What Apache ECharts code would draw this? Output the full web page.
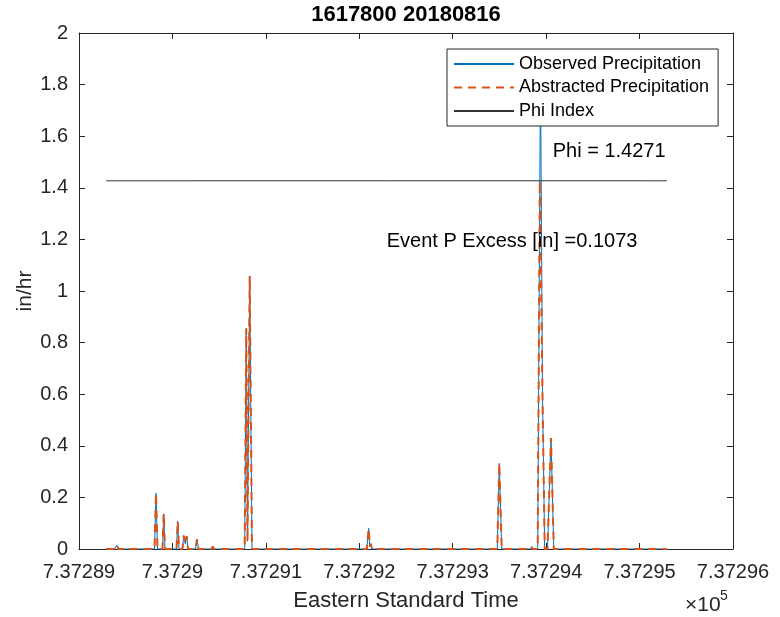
<!DOCTYPE html>
<html>
<head>
<meta charset="utf-8">
<script src="https://cdn.jsdelivr.net/npm/echarts@6/dist/echarts.min.js"></script>
<style>
html,body{margin:0;padding:0;background:#fff;}
#chart{width:780px;height:617px;}
</style>
</head>
<body>
<div id="chart"></div>
<script>
// ---- data (x in MATLAB datenum days, y in in/hr) ----
var titleText = '1617800 20180816';
var xTickLabels = ['7.37289','7.3729','7.37291','7.37292','7.37293','7.37294','7.37295','7.37296'];
var yTickLabels = ['0','0.2','0.4','0.6','0.8','1','1.2','1.4','1.6','1.8','2'];

var obsTime = [737289.2917,737289.3800,737289.4035,737289.4228,737289.8081,737289.8242,737289.8402,
  737289.8937,737289.9066,737289.9205,737290.0436,737290.0564,737290.0703,737290.1078,737290.1206,
  737290.1377,737290.1527,737290.1666,737290.2469,737290.2630,737290.2790,737290.4182,737290.4310,
  737290.4449,737290.7735,737290.7906,737290.8035,737290.8270,737290.8517,737292.0804,737292.1007,
  737292.1125,737292.1221,737292.1360,737293.4771,737293.4985,737293.5242,737293.8378,737293.8453,
  737293.8539,737293.9095,737293.9395,737293.9609,737293.9845,737294.0144,737294.0519,737294.0819,
  737295.2917];
var obsValue = [0,0,0.015,0,0,0.216,0,
  0,0.136,0,0,0.108,0,0,0.052,
  0.02,0.05,0,0,0.037,0,0,0.01,
  0,0,0.855,0.03,1.058,0,0,0.08,
  0.01,0.02,0,0,0.332,0,0,0.008,
  0,0,1.86,0.6,0,0,0.43,0,
  0];

var absTime = [737289.2917,737289.3800,737289.4035,737289.4228,737289.8081,737289.8242,737289.8402,
  737289.8937,737289.9066,737289.9205,737290.0436,737290.0564,737290.0703,737290.1078,737290.1206,
  737290.1377,737290.1527,737290.1666,737290.2469,737290.2630,737290.2790,737290.4182,737290.4310,
  737290.4449,737290.7735,737290.7906,737290.8035,737290.8270,737290.8517,737292.0804,737292.1007,
  737292.1125,737292.1221,737292.1360,737293.4771,737293.4985,737293.5242,737293.8378,737293.8453,
  737293.8539,737293.9095,737293.9325,737293.9460,737293.9609,737293.9845,737294.0144,737294.0519,
  737294.0819,737295.2917];
var absValue = [0,0,0.015,0,0,0.216,0,
  0,0.136,0,0,0.108,0,0,0.052,
  0.02,0.05,0,0,0.037,0,0,0.01,
  0,0,0.855,0.03,1.058,0,0,0.08,
  0.01,0.02,0,0,0.332,0,0,0.008,
  0,0,1.4271,1.4271,0.6,0,0,0.43,
  0,0];

var phiValue = 1.4271;
var phiTime = [737289.2917, 737295.2917];
var phiLabel = 'Phi = 1.4271';
var phiLabelPos = [737294.0701, 1.540];
var excessLabel = 'Event P Excess [in] =0.1073';
var excessLabelPos = [737292.2934, 1.191];

var xMin = 737289, xMax = 737296;

function pairs(t, v){ var out=[]; for (var i=0;i<t.length;i++) out.push([t[i], v[i]]); return out; }

var FONT = '"Liberation Sans", Arial, Helvetica, sans-serif';
var AX = '#262626';

var chart = echarts.init(document.getElementById('chart'), null, {renderer:'canvas'});

var xCommon = {
  type:'value', min:xMin, max:xMax, interval:1,
  axisLine:{show:true, onZero:false, lineStyle:{color:AX, width:1}},
  axisTick:{show:true, inside:true, length:6, lineStyle:{color:AX, width:1}},
  splitLine:{show:false}
};
var yCommon = {
  type:'value', min:0, max:2, interval:0.2,
  axisLine:{show:true, onZero:false, lineStyle:{color:AX, width:1}},
  axisTick:{show:true, inside:true, length:6, lineStyle:{color:AX, width:1}},
  splitLine:{show:false}
};

var option = {
  animation:false,
  backgroundColor:'#fff',
  textStyle:{fontFamily:FONT},
  grid:{left:79, top:33, right:47, bottom:68, containLabel:false},
  xAxis:[
    Object.assign({}, xCommon, {
      position:'bottom',
      name:'Eastern Standard Time', nameLocation:'middle', nameGap:41,
      nameTextStyle:{fontSize:22, color:AX, fontFamily:FONT},
      axisLabel:{fontSize:20, color:AX, margin:13, fontFamily:FONT,
        formatter:function(v){ return xTickLabels[Math.round(v - xMin)]; }}
    }),
    Object.assign({}, xCommon, {position:'top', axisLabel:{show:false}})
  ],
  yAxis:[
    Object.assign({}, yCommon, {
      position:'left',
      name:'in/hr', nameLocation:'middle', nameGap:43, nameMoveOverlap:false,
      nameTextStyle:{fontSize:21, color:AX, fontFamily:FONT},
      axisLabel:{fontSize:20, color:AX, margin:11, fontFamily:FONT,
        formatter:function(v){ return yTickLabels[Math.round(v/0.2)]; }}
    }),
    Object.assign({}, yCommon, {position:'right', axisLabel:{show:false}})
  ],
  legend:{
    orient:'vertical', left:447, top:49,
    data:['Observed Precipitation','Abstracted Precipitation','Phi Index'],
    itemWidth:60, itemHeight:14, itemGap:3.5,
    padding:[5,9,5,6],
    backgroundColor:'#fff', borderColor:'#262626', borderWidth:1,
    itemStyle:{opacity:0},
    textStyle:{fontSize:18, color:'#000', fontFamily:FONT, lineHeight:20},
    selectedMode:false, z:10
  },
  graphic:[
    {type:'text', z:10, position:[406,15],
     style:{text:titleText, font:'bold 22px ' + FONT, fill:'#000',
       textAlign:'center', textVerticalAlign:'middle'}},
    {type:'text', position:[685,605], style:{text:'\u00d710', font:'21px ' + FONT, fill:AX,
       textAlign:'left', textVerticalAlign:'middle'}},
    {type:'text', position:[720,596], style:{text:'5', font:'14px ' + FONT, fill:AX,
       textAlign:'left', textVerticalAlign:'middle'}}
  ],
  series:[
    {name:'Observed Precipitation', type:'line', data:pairs(obsTime, obsValue),
     symbol:'none', showSymbol:false, z:2,
     lineStyle:{color:'#0072BD', width:1}, itemStyle:{color:'#0072BD'}},
    {name:'Abstracted Precipitation', type:'line', data:pairs(absTime, absValue),
     symbol:'none', showSymbol:false, z:3,
     lineStyle:{color:'#D95319', width:2, type:[8,6]}, itemStyle:{color:'#D95319'}},
    {name:'Phi Index', type:'line', data:pairs(phiTime, [phiValue, phiValue]),
     symbol:'none', showSymbol:false, z:4,
     lineStyle:{color:'#333333', width:1}, itemStyle:{color:'#000'},
     markPoint:{
       symbol:'circle', symbolSize:0, silent:true,
       label:{show:true, position:'right', distance:0, fontSize:20, color:'#000', fontFamily:FONT},
       data:[
         {coord:phiLabelPos, label:{formatter:phiLabel}},
         {coord:excessLabelPos, label:{formatter:excessLabel}}
       ]
     }}
  ]
};
chart.setOption(option);
</script>
</body>
</html>
